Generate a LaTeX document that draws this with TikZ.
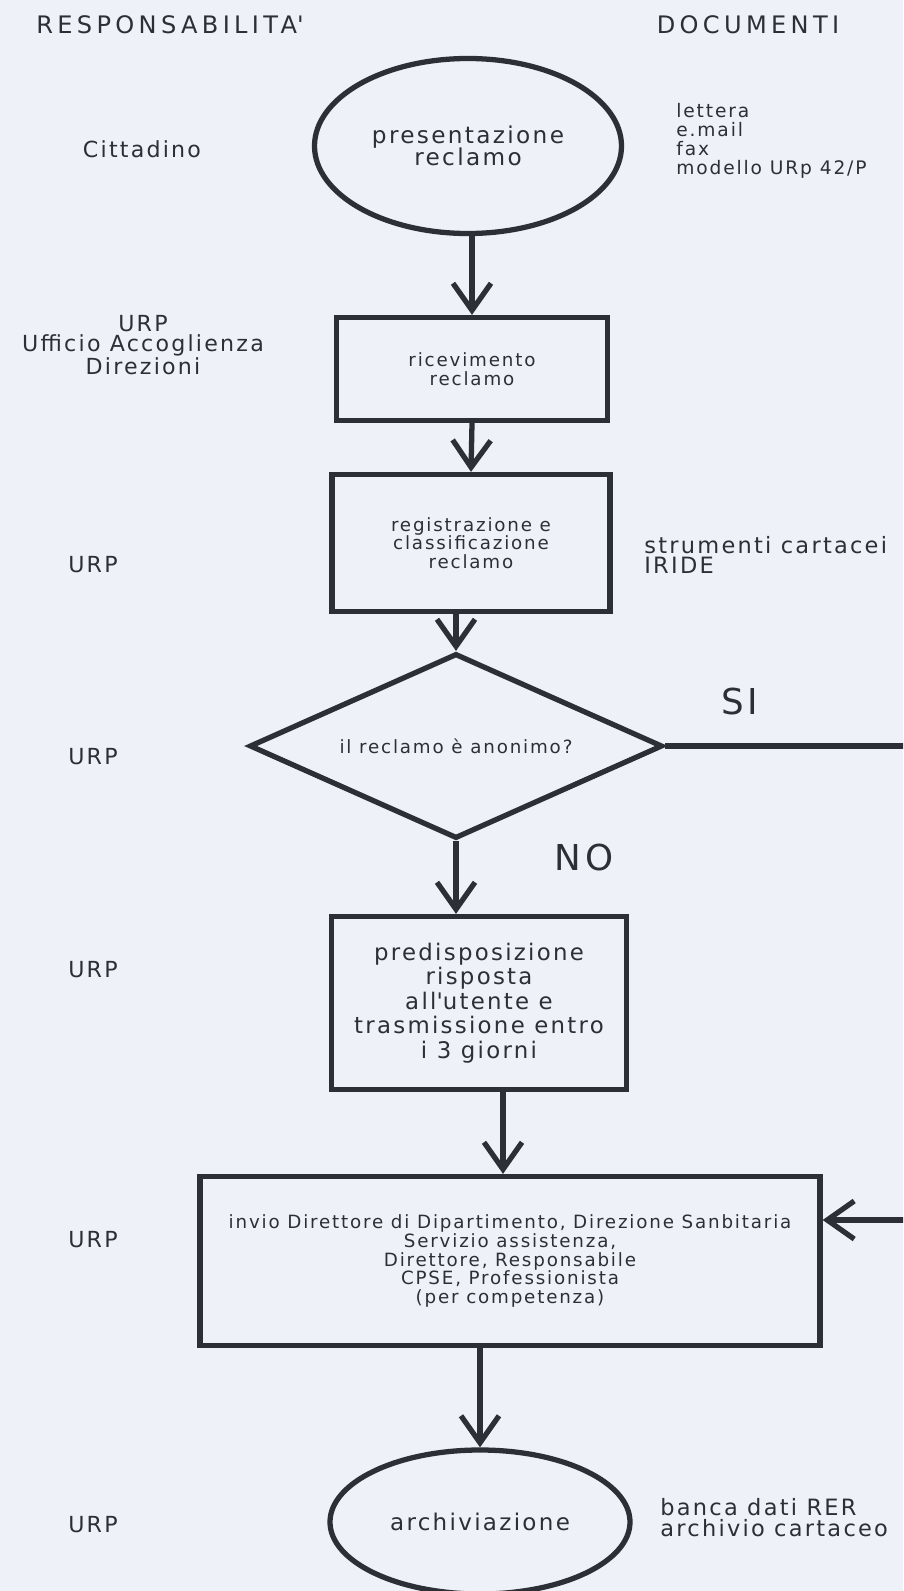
\documentclass[tikz,border=0pt]{standalone}
\usepackage{fontspec}
\setmainfont{DejaVu Sans}[LetterSpace=10]
\usetikzlibrary{shapes.geometric,arrows.meta}
\definecolor{paper}{RGB}{239,241,248}
\definecolor{ink}{RGB}{44,48,54}
\newcommand{\fsz}[2]{\fontsize{#1}{#2}\selectfont}
\tikzset{
  procbox/.style={draw=ink,text=ink,line width=3pt,rectangle,align=center,inner sep=0pt},
  termnode/.style={draw=ink,text=ink,line width=3pt,ellipse,align=center,inner sep=0pt},
  decnode/.style={draw=ink,text=ink,line width=3pt,diamond,aspect=2.2,inner sep=0pt},
  flow/.style={draw=ink,line width=3pt,-{Straight Barb[length=5.4mm,width=7.6mm]}},
  lbl/.style={text=ink,align=center,inner sep=0pt},
  headlbl/.style={lbl,font=\fsz{13.7}{16}\addfontfeature{LetterSpace=18}},
  resplbl/.style={lbl,font=\fsz{12.6}{11.6}},
}
\begin{document}
\begin{tikzpicture}[x=0.2mm,y=-0.2mm]
  \useasboundingbox (0,0) rectangle (903,1591);
  \fill[paper] (0,0) rectangle (903,1591);
  \clip (0,0) rectangle (903,1591);
  % column headers
  \node[headlbl] (hresp) at (170,25) {RESPONSABILITA\textquotesingle};
  \node[headlbl] (hdoc) at (748,25) {DOCUMENTI};
  % flow chart
  \node[termnode,minimum width=61.4mm,minimum height=35mm,font=\fsz{13.2}{12.8}] (start) at (468,146) {presentazione\\reclamo};
  \node[procbox,minimum width=54.2mm,minimum height=20.6mm,font=\fsz{10.4}{10.7}] (recv) at (472,369) {ricevimento\\reclamo};
  \node[procbox,minimum width=55.6mm,minimum height=27.4mm,font=\fsz{10.4}{10.7}] (reg) at (471,543) {registrazione e\\classificazione\\reclamo};
  \node[decnode,minimum width=82.6mm,minimum height=37mm,font=\fsz{10.4}{10.7}] (anon) at (456,746) {il reclamo è anonimo?};
  \node[procbox,minimum width=59mm,minimum height=34.6mm,font=\fsz{13}{13.9}] (reply) at (479,1003) {predisposizione\\risposta\\all\textquotesingle utente e\\trasmissione entro\\i 3 giorni};
  \node[procbox,minimum width=124mm,minimum height=33.8mm,font=\fsz{10.4}{10.7}] (send) at (510,1261) {invio Direttore di Dipartimento, Direzione Sanbitaria\\Servizio assistenza,\\Direttore, Responsabile\\CPSE, Professionista\\(per competenza)};
  \node[termnode,minimum width=60mm,minimum height=28.8mm,font=\fsz{13.1}{12.5}] (arch) at (480,1522) {archiviazione};
  \node[lbl,font=\fsz{20.3}{22}] (yes) at (740,702) {SI};
  \node[lbl,font=\fsz{20.3}{22}] (no) at (584,858) {NO};
  % responsabilita'
  \node[resplbl] (rcit) at (142,149) {Cittadino};
  \node[resplbl] (rurp1) at (143,345) {URP\\Ufficio Accoglienza\\Direzioni};
  \foreach \y/\n in {565/2,757/3,970/4,1240/5,1525/6}
    \node[resplbl] (rurp\n) at (93,\y) {URP};
  % documenti
  \node[lbl,anchor=west,align=left,font=\fsz{10.6}{10.9}] (dstart) at (676,141) {lettera\\e.mail\\fax\\modello URp 42/P};
  \node[lbl,anchor=west,align=left,font=\fsz{12.8}{11.8}] (dreg) at (644,555) {strumenti cartacei\\IRIDE};
  \node[lbl,anchor=west,align=left,font=\fsz{12.8}{12}] (darch) at (660,1518) {banca dati RER\\archivio cartaceo};
  % connectors
  \draw[flow] (start.south -| recv.north) -- (recv.north);
  \draw[flow] (recv.south) -- (reg.north);
  \draw[flow] (anon.north |- reg.south) -- (anon.north);
  \draw[flow] (anon.south) -- (anon.south |- reply.north);
  \draw[flow] ([xshift=4.8mm]reply.south) -- ([xshift=4.8mm]reply.south |- send.north);
  \draw[flow] (arch.north |- send.south) -- (arch.north);
  \coordinate (rim) at (960,1220);
  \draw[flow] (anon.east) -| (rim) -- (rim -| send.east);
\end{tikzpicture}
\end{document}
